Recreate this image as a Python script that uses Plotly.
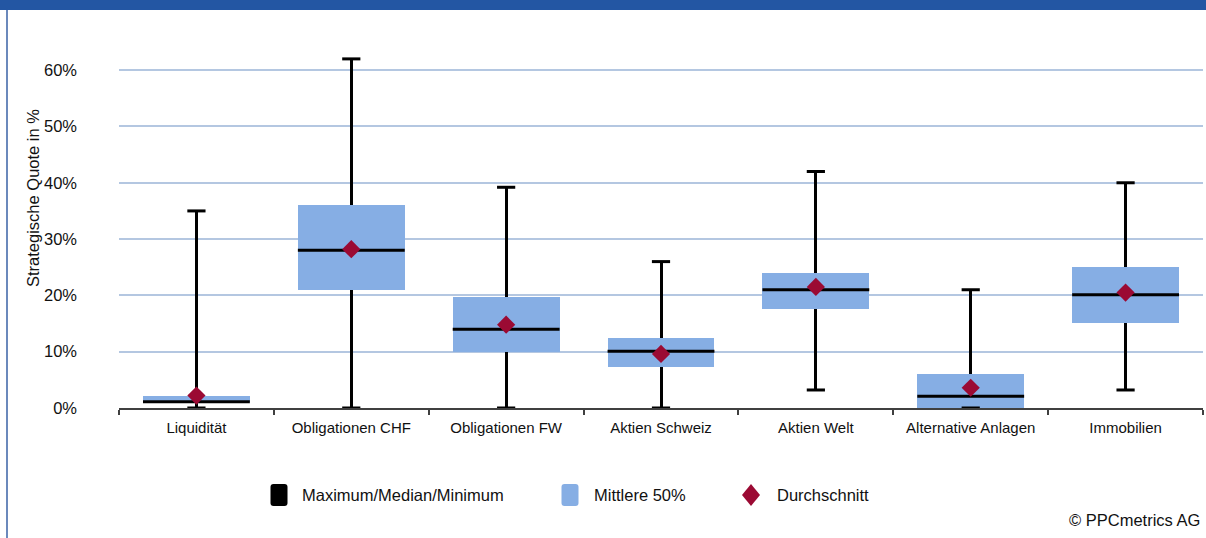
import plotly.graph_objects as go

# Strategic allocation quotas per asset class (in %)
categories = ["Liquidität", "Obligationen CHF", "Obligationen FW", "Aktien Schweiz",
              "Aktien Welt", "Alternative Anlagen", "Immobilien"]
maximum = [35, 62, 39.2, 26, 42, 21, 40]
q3 = [2.1, 36, 19.8, 12.5, 24, 6.1, 25]
median = [1.1, 28, 14, 10.1, 21, 2.1, 20.1]
q1 = [1.1, 21, 10, 7.2, 17.5, 0, 15.1]
minimum = [0, 0, 0, 0, 3.2, 0, 3.2]
mean = [2.2, 28.2, 14.8, 9.6, 21.5, 3.6, 20.5]

y_ticks = [0, 10, 20, 30, 40, 50, 60]
y_tick_labels = ["0%", "10%", "20%", "30%", "40%", "50%", "60%"]
legend_labels = ["Maximum/Median/Minimum", "Mittlere 50%", "Durchschnitt"]

BLACK = "#000000"
BOX_BLUE = "#86AEE4"
MEAN_RED = "#9B0A33"
GRID_BLUE = "#B4C7E1"
FRAME_BLUE = "#2356A3"
FONT = "Liberation Sans, Arial, sans-serif"
TEXT = "#111111"

W, H = 1206, 538
M_L, M_R, M_T, M_B = 119, 3, 42, 130
PLOT_W = W - M_L - M_R
PLOT_H = H - M_T - M_B
Y_MAX = 65

BOX_W = 0.69
WHISKER_W = 3 / (PLOT_W / len(categories))

x = list(range(len(categories)))


def px_x(px):
    return (px - M_L) / PLOT_W


def px_y(py):
    return (H - M_B - py) / PLOT_H


fig = go.Figure()

# whisker stems (min → max), drawn first so the boxes cover them
fig.add_trace(go.Bar(
    x=x, base=minimum, y=[mx - mn for mx, mn in zip(maximum, minimum)],
    width=WHISKER_W, marker=dict(color=BLACK, line=dict(width=0)),
    showlegend=False, hoverinfo="skip"))

# interquartile boxes
fig.add_trace(go.Bar(
    x=x, base=q1, y=[a - b for a, b in zip(q3, q1)],
    width=BOX_W, marker=dict(color=BOX_BLUE, line=dict(width=0)),
    showlegend=False, name=legend_labels[1]))

# median lines across each box
mx_, my_ = [], []
for i, m in zip(x, median):
    mx_ += [i - BOX_W / 2, i + BOX_W / 2, None]
    my_ += [m, m, None]
fig.add_trace(go.Scatter(x=mx_, y=my_, mode="lines",
                         line=dict(color=BLACK, width=3),
                         showlegend=False, hoverinfo="skip"))

# whisker caps at max and min
fig.add_trace(go.Scatter(
    x=x + x, y=maximum + minimum, mode="markers", cliponaxis=False,
    marker=dict(symbol="line-ew", size=13, line=dict(color=BLACK, width=3)),
    showlegend=False, hoverinfo="skip"))

# averages
fig.add_trace(go.Scatter(
    x=x, y=mean, mode="markers", cliponaxis=False,
    marker=dict(symbol="diamond", size=14, color=MEAN_RED, line=dict(width=0)),
    showlegend=False, name=legend_labels[2]))

shapes = [
    # header band
    dict(type="rect", xref="paper", yref="paper",
         x0=px_x(0), x1=px_x(W), y0=px_y(10), y1=px_y(-2),
         fillcolor=FRAME_BLUE, line=dict(width=0), layer="above"),
    # left frame line
    dict(type="line", xref="paper", yref="paper",
         x0=px_x(7), x1=px_x(7), y0=px_y(10), y1=px_y(H + 2),
         line=dict(color="#3A62A6", width=1.5)),
]

# legend swatches (pixel-sized shapes anchored in paper space)
legend_y = px_y(495)
swatch = "M -8.5,-8 Q -8.5,-11 -5.5,-11 L 5.5,-11 Q 8.5,-11 8.5,-8 L 8.5,8 Q 8.5,11 5.5,11 L -5.5,11 Q -8.5,11 -8.5,8 Z"
for cx, col in [(279, BLACK), (570, BOX_BLUE)]:
    shapes.append(dict(type="path", xref="paper", yref="paper",
                       xsizemode="pixel", ysizemode="pixel",
                       xanchor=px_x(cx), yanchor=legend_y,
                       path=swatch, fillcolor=col, line=dict(width=0)))
shapes.append(dict(type="path", xref="paper", yref="paper",
                   xsizemode="pixel", ysizemode="pixel",
                   xanchor=px_x(751), yanchor=legend_y,
                   path="M 0,-11 L 9,0 L 0,11 L -9,0 Z",
                   fillcolor=MEAN_RED, line=dict(width=0)))

annotations = [
    dict(text="Strategische Quote in %", xref="paper", yref="paper",
         x=px_x(33), y=px_y(198), textangle=-90, showarrow=False,
         xanchor="center", yanchor="middle", font=dict(size=16.5, color=TEXT)),
    dict(text="© PPCmetrics AG", xref="paper", yref="paper",
         x=px_x(1202), y=px_y(520), showarrow=False,
         xanchor="right", yanchor="middle", font=dict(size=16.5, color=TEXT)),
]
for tx, label in zip([300, 592, 775], legend_labels):
    annotations.append(dict(text=label, xref="paper", yref="paper",
                            x=px_x(tx), y=legend_y, showarrow=False,
                            xanchor="left", yanchor="middle",
                            font=dict(size=16.5, color=TEXT)))

fig.update_layout(
    width=W, height=H,
    margin=dict(l=M_L, r=M_R, t=M_T, b=M_B, pad=0),
    paper_bgcolor="white", plot_bgcolor="white",
    font=dict(family=FONT, color=TEXT),
    barmode="overlay", bargap=0, showlegend=False,
    shapes=shapes, annotations=annotations,
    xaxis=dict(
        range=[-0.5, len(categories) - 0.5],
        tickmode="array", tickvals=x, ticktext=categories,
        ticks="outside", ticklen=5, tickcolor="rgba(0,0,0,0)",
        tickfont=dict(size=15, color=TEXT),
        showgrid=False, zeroline=False,
        showline=True, linecolor="#404040", linewidth=1.5,
        minor=dict(tickmode="array",
                   tickvals=[i - 0.5 for i in range(len(categories) + 1)],
                   ticks="outside", ticklen=5, tickcolor="#404040",
                   tickwidth=1.5, showgrid=False),
        fixedrange=True,
    ),
    yaxis=dict(
        range=[0, Y_MAX],
        tickmode="array", tickvals=y_ticks, ticktext=y_tick_labels,
        tickfont=dict(size=16.5, color=TEXT),
        ticks="", ticklabelstandoff=41,
        showgrid=True, gridcolor=GRID_BLUE, gridwidth=1.5,
        zeroline=False, showline=False, fixedrange=True,
    ),
)

fig.write_html("out.html")
